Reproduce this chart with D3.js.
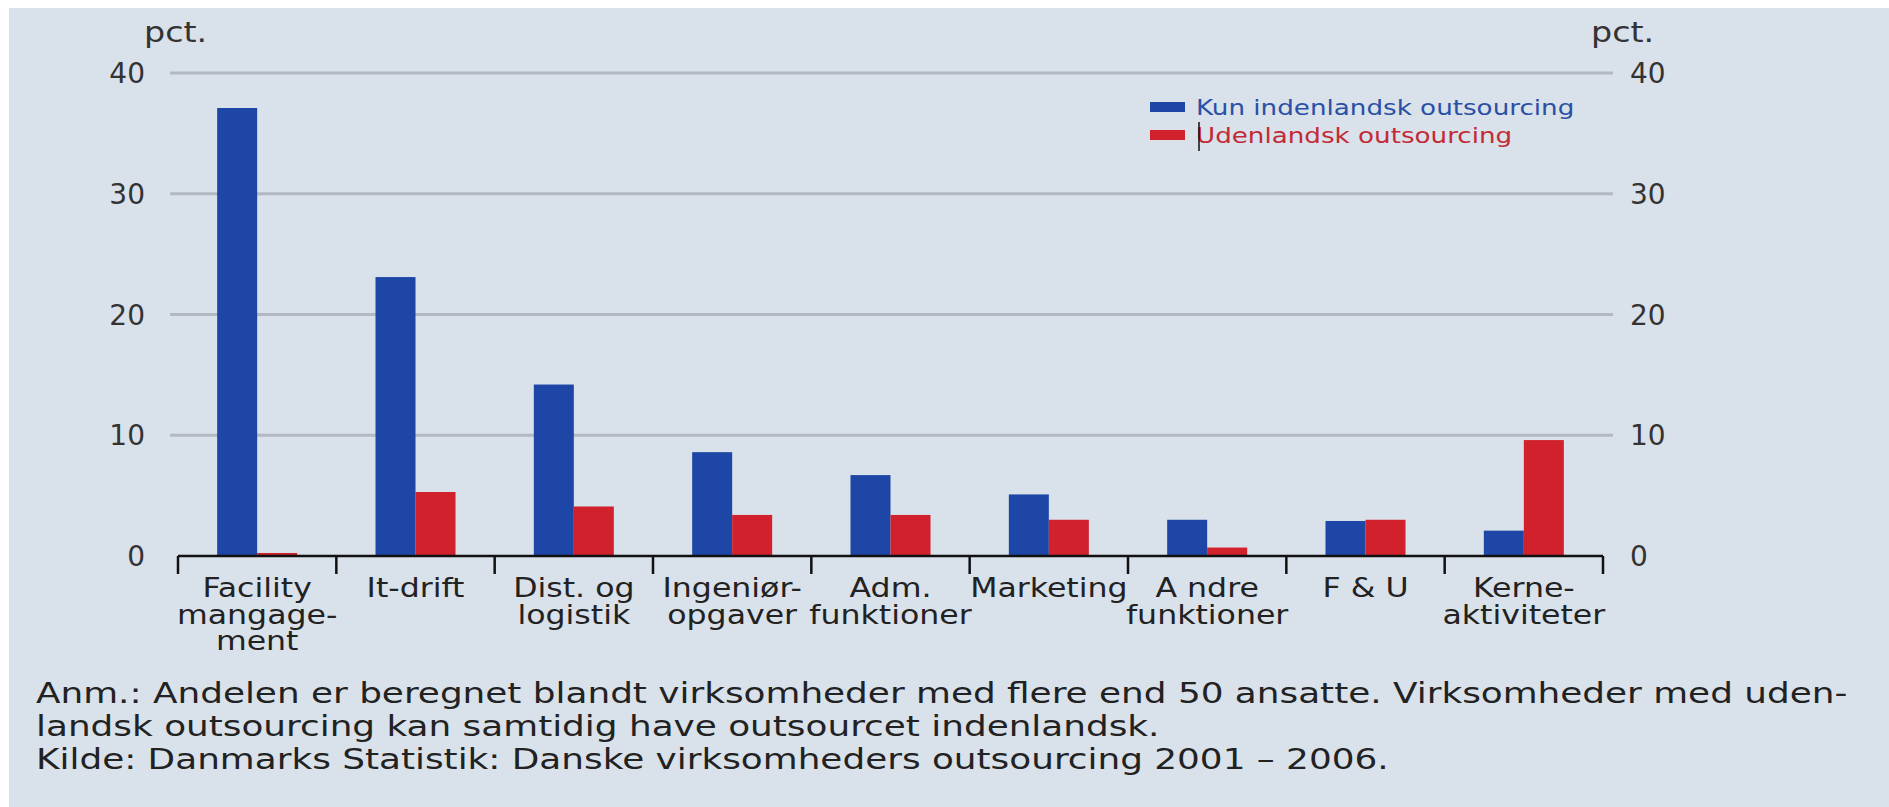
<!DOCTYPE html>
<html>
<head>
<meta charset="utf-8">
<script src="https://cdn.jsdelivr.net/npm/d3@7"></script>
<style>
  body { margin: 0; background: #ffffff; }
  text { font-family: "DejaVu Sans", Verdana, sans-serif; }
</style>
</head>
<body>
<div id="chart"></div>
<script>
// data (pct.)
const categories = ['Facility', 'It-drift', 'Dist', 'Ingenior', 'Adm', 'Marketing', 'Andre', 'FU', 'Kerne'];
const labelLines = [
    ['Facility', 'mangage-', 'ment'],
    ['It-drift'],
    ['Dist. og', 'logistik'],
    ['Ingeniør-', 'opgaver'],
    ['Adm.', 'funktioner'],
    ['Marketing'],
    ['A ndre', 'funktioner'],
    ['F & U'],
    ['Kerne-', 'aktiviteter']
];
const domestic = [37.1, 23.1, 14.2, 8.6, 6.7, 5.1, 3.0, 2.9, 2.1];
const foreign = [0.25, 5.3, 4.1, 3.4, 3.4, 3.0, 0.7, 3.0, 9.6];
const seriesNames = ['Kun indenlandsk outsourcing', 'Udenlandsk outsourcing'];
const yTicks = [0, 10, 20, 30, 40];
const notes = [
    'Anm.: Andelen er beregnet blandt virksomheder med flere end 50 ansatte. Virksomheder med uden-',
    'landsk outsourcing kan samtidig have outsourcet indenlandsk.',
    'Kilde: Danmarks Statistik: Danske virksomheders outsourcing 2001 – 2006.'
];

const width = 1889;
const height = 807;
const SX = 1.19; // the picture is stretched sideways
const blue = '#1d46a6';
const red = '#d0212d';

const svg = d3.select('#chart')
    .append('svg')
    .attr('width', width)
    .attr('height', height);

svg.append('rect')
    .attr('x', 9).attr('y', 8)
    .attr('width', width - 9).attr('height', height - 8)
    .attr('fill', '#d9e1ea');

const x = d3.scaleBand()
    .domain(categories)
    .range([178, 1603])
    .padding(0);

const xSub = d3.scaleBand()
    .domain(['dom', 'for'])
    .range([x.bandwidth() / 2 - 40, x.bandwidth() / 2 + 40]);

const y = d3.scaleLinear()
    .domain([0, 40])
    .range([556, 73]);

function place(sel, px, py, sx) {
    return sel.attr('transform', `translate(${px},${py}) scale(${sx || SX},1)`);
}

// gridlines
svg.append('g')
    .selectAll('line')
    .data(yTicks.filter(d => d > 0))
    .enter()
    .append('line')
    .attr('x1', 170).attr('x2', 1613)
    .attr('y1', d => y(d)).attr('y2', d => y(d))
    .attr('stroke', '#b2b9c1')
    .attr('stroke-width', 3);

// tick labels both sides
const yLabels = svg.append('g').attr('font-size', 28).attr('fill', '#333');
yTicks.forEach(t => {
    place(yLabels.append('text').attr('text-anchor', 'end').text(t), 145, y(t) + 10, 1);
    place(yLabels.append('text').attr('text-anchor', 'start').text(t), 1630, y(t) + 10, 1);
});
place(yLabels.append('text').text('pct.'), 144, 42);
place(yLabels.append('text').text('pct.'), 1591, 42);

// bars
const groups = svg.append('g')
    .selectAll('g')
    .data(categories)
    .enter()
    .append('g')
    .attr('transform', d => `translate(${x(d)},0)`);

groups.append('rect')
    .attr('x', xSub('dom'))
    .attr('width', xSub.bandwidth())
    .attr('y', (d, i) => y(domestic[i]))
    .attr('height', (d, i) => y(0) - y(domestic[i]))
    .attr('fill', blue);

groups.append('rect')
    .attr('x', xSub('for'))
    .attr('width', xSub.bandwidth())
    .attr('y', (d, i) => y(foreign[i]))
    .attr('height', (d, i) => y(0) - y(foreign[i]))
    .attr('fill', red);

// x axis
const axis = svg.append('g').attr('stroke', '#111').attr('stroke-width', 2.5);
axis.append('line')
    .attr('x1', x.range()[0]).attr('x2', x.range()[1])
    .attr('y1', y(0)).attr('y2', y(0));
const bounds = categories.map(c => x(c)).concat([x.range()[1]]);
axis.selectAll('.tick')
    .data(bounds)
    .enter()
    .append('line')
    .attr('x1', d => d).attr('x2', d => d)
    .attr('y1', y(0)).attr('y2', y(0) + 18);

// category labels
const catLabels = svg.append('g').attr('font-size', 27).attr('fill', '#222').attr('text-anchor', 'middle');
categories.forEach((c, i) => {
    labelLines[i].forEach((line, j) => {
        place(catLabels.append('text').text(line), x(c) + x.bandwidth() / 2, 597 + j * 26.5, 1.17);
    });
});

// legend
const legend = svg.append('g').attr('font-size', 22);
[blue, red].forEach((col, i) => {
    legend.append('rect')
        .attr('x', 1150).attr('y', 102 + i * 28)
        .attr('width', 35).attr('height', 10)
        .attr('fill', col);
    place(legend.append('text').attr('fill', i === 0 ? '#2a50a6' : '#c42a35').text(seriesNames[i]), 1196, 115 + i * 28);
});
legend.append('line')
    .attr('x1', 1199).attr('x2', 1199)
    .attr('y1', 122).attr('y2', 151)
    .attr('stroke', '#111').attr('stroke-width', 1.5);

// notes
const foot = svg.append('g').attr('font-size', 28).attr('fill', '#222');
notes.forEach((n, i) => {
    place(foot.append('text').text(n), 36, 703 + i * 33, 1.28);
});
</script>
</body>
</html>
